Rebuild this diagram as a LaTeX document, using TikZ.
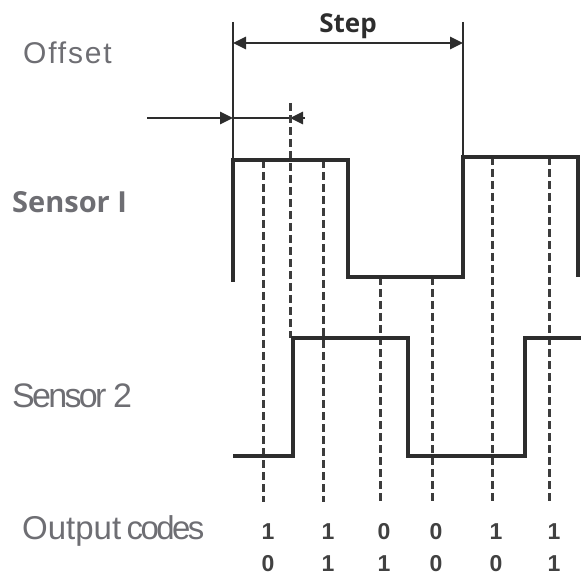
\documentclass[tikz,border=0pt]{standalone}
\usepackage{fontspec}
\setmainfont{Liberation Sans}
\newfontfamily\opensans{Open Sans}
\usetikzlibrary{arrows.meta}
\definecolor{labcol}{RGB}{110,110,115}
\definecolor{wavecol}{RGB}{45,45,45}
\definecolor{dashcol}{RGB}{60,60,60}
\definecolor{digcol}{RGB}{65,65,65}
\begin{document}
\begin{tikzpicture}[x=1pt,y=-1pt,
  wave/.style={draw=wavecol,line width=3.6pt,line join=miter,line cap=rect},
  dline/.style={draw=dashcol,line width=3pt,dash pattern=on 8pt off 4pt},
  dim/.style={draw=wavecol,line width=2.6pt},
  tip/.style={-{Triangle[length=13pt,width=12pt]}},
  lab/.style={text=labcol,anchor=base west,inner sep=0pt},
  digit/.style={text=digcol,font=\fontsize{23}{23}\selectfont\bfseries,inner sep=0pt}]
\useasboundingbox (0,0) rectangle (581,577);
% labels
\node[lab,font=\fontsize{30}{30}\selectfont\addfontfeature{LetterSpace=6}] (loff) at (23,64) {Offset};
\node[lab,font=\fontsize{29}{29}\selectfont\opensans\bfseries] (ls1) at (12,213) {Sensor I};
\node[lab,font=\fontsize{34}{34}\selectfont\addfontfeature{LetterSpace=-8}] (ls2) at (12,407) {Sensor 2};
\node[lab,font=\fontsize{33}{33}\selectfont] (lout) at (22,539) {Output\,{\addfontfeature{LetterSpace=-8}codes}};
% step dimension
\node[text=wavecol,font=\fontsize{26}{26}\selectfont\opensans\bfseries,inner sep=0pt,anchor=base] (step) at (348,33) {Step};
\coordinate (sl) at (233,43);
\coordinate (sr) at (463,43);
\draw[dim,{Triangle[length=13pt,width=12pt]}-{Triangle[length=13pt,width=12pt]}] (sl) -- (sr);
% offset dimension
\coordinate (oa) at (147,118);
\coordinate (ob) at (233,118);
\coordinate (oc) at (290,118);
\coordinate (od) at (305,118);
\draw[dim,tip] (oa) -- (ob);
\draw[dim] (ob) -- (oc);
\draw[dim,tip] (od) -- (oc);
% dashed lines
\draw[dline] (290,103) -- (290,338);
\draw[dline] (263,160) -- (263,502);
\draw[dline] (323,160) -- (323,502);
\draw[dline] (380,277) -- (380,502);
\draw[dline] (432,277) -- (432,502);
\draw[dline] (492,157) -- (492,502);
\draw[dline] (549,157) -- (549,502);
% sensor 1
\draw[dim] (233,22) -- (233,160);
\draw[dim] (463,22) -- (463,157);
\draw[wave] (233,280) -- (233,160) -- (348,160) -- (348,277) -- (463,277) -- (463,157) -- (578,157) -- (578,275);
% sensor 2
\draw[wave] (235,456) -- (293,456) -- (293,338) -- (408,338) -- (408,456) -- (525,456) -- (525,338) -- (581,338);
% output codes
\foreach \x/\a/\b [count=\i] in {268/1/0,328/1/1,384/0/1,436/0/0,496/1/0,554/1/1}{
  \node[digit] (t\i) at (\x,532) {\a};
  \node[digit] (b\i) at (\x,564) {\b};
}
\end{tikzpicture}
\end{document}
